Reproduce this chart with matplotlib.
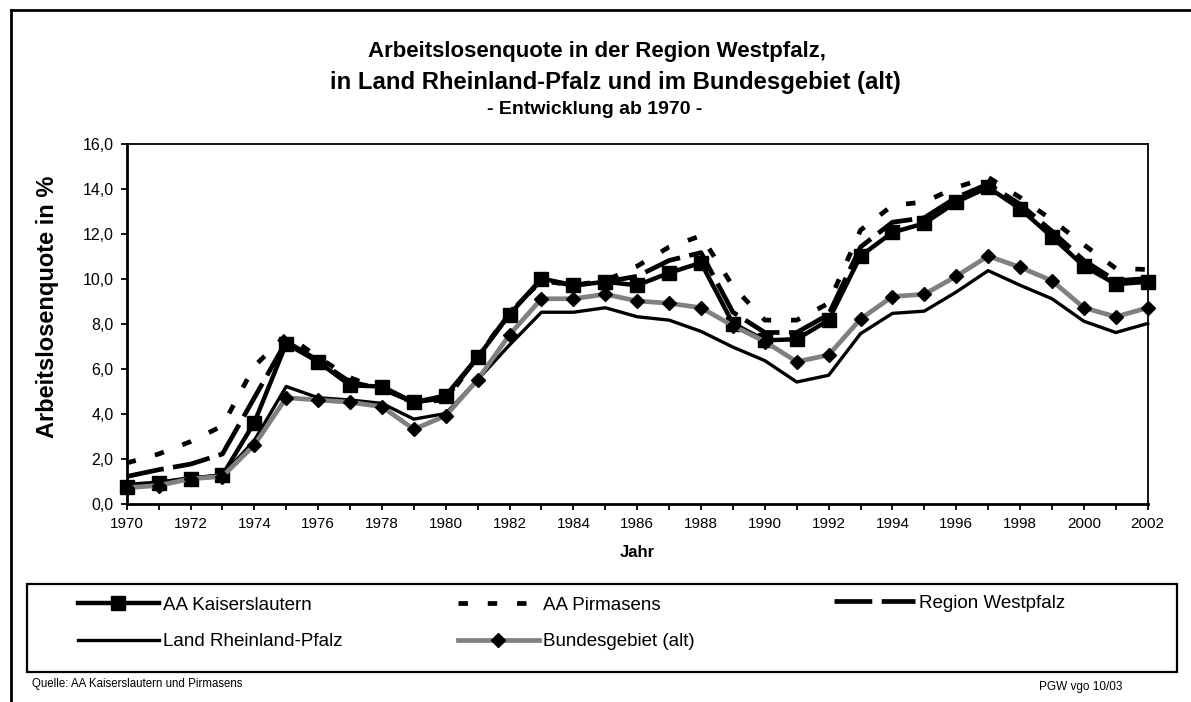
import matplotlib
matplotlib.use("Agg")
import matplotlib.pyplot as plt
from matplotlib.lines import Line2D
from matplotlib.patches import Rectangle

plt.rcParams["font.family"] = ["Liberation Sans", "DejaVu Sans"]

W, H = 1191, 702

years = list(range(1970, 2003))

kaiserslautern = [0.75, 0.9, 1.1, 1.25, 3.6, 7.1, 6.3, 5.25, 5.2, 4.5, 4.8,
                  6.5, 8.4, 10.0, 9.7, 9.85, 9.7, 10.25, 10.7, 8.0, 7.25,
                  7.3, 8.15, 11.0, 12.05, 12.45, 13.4, 14.05, 13.1, 11.85,
                  10.55, 9.75, 9.85]
pirmasens = [1.8, 2.2, 2.75, 3.45, 6.1, 7.5, 6.5, 5.6, 5.0, 4.5, 4.6,
             6.5, 8.5, 9.9, 9.7, 9.9, 10.55, 11.4, 11.9, 9.65, 8.15,
             8.15, 8.9, 12.15, 13.25, 13.4, 14.05, 14.5, 13.6, 12.6,
             11.5, 10.45, 10.4]
westpfalz = [1.2, 1.5, 1.75, 2.2, 4.7, 7.2, 6.35, 5.4, 5.1, 4.5, 4.7,
             6.5, 8.45, 9.95, 9.7, 9.85, 10.1, 10.8, 11.15, 8.5, 7.6,
             7.6, 8.4, 11.4, 12.5, 12.7, 13.6, 14.2, 13.3, 12.1,
             10.8, 9.9, 10.0]
rheinland_pfalz = [0.85, 0.95, 1.15, 1.25, 2.8, 5.2, 4.7, 4.6, 4.45, 3.75, 4.0,
                   5.5, 7.05, 8.5, 8.5, 8.7, 8.3, 8.15, 7.65, 6.95, 6.35,
                   5.4, 5.7, 7.55, 8.45, 8.55, 9.4, 10.35, 9.7, 9.1,
                   8.1, 7.6, 8.0]
bundesgebiet = [0.7, 0.8, 1.1, 1.2, 2.6, 4.7, 4.6, 4.5, 4.3, 3.3, 3.9,
                5.5, 7.5, 9.1, 9.1, 9.3, 9.0, 8.9, 8.7, 7.9, 7.2,
                6.3, 6.6, 8.2, 9.2, 9.3, 10.1, 11.0, 10.5, 9.9,
                8.7, 8.3, 8.7]

labels = ["AA Kaiserslautern", "AA Pirmasens", "Region Westpfalz",
          "Land Rheinland-Pfalz", "Bundesgebiet (alt)"]
y_ticks = [0, 2, 4, 6, 8, 10, 12, 14, 16]


def fx(px):
    return px / W


def fy(py):
    return 1 - py / H


fig = plt.figure(figsize=(W / 100, H / 100), dpi=100)

# outer frame (only top and left edges are inside the picture)
fig.add_artist(Line2D([fx(11), fx(11)], [fy(10), fy(702)], color="black",
                      lw=2, transform=fig.transFigure))
fig.add_artist(Line2D([fx(11), fx(1191)], [fy(10), fy(10)], color="black",
                      lw=2, transform=fig.transFigure))

ax = fig.add_axes([fx(126.7), fy(503.5), fx(1147.7 - 126.7), (503.5 - 143.5) / H])

h_ps, = ax.plot(years, pirmasens, color="black", lw=3.4,
                dashes=(2.0, 4.2), clip_on=False, zorder=2)
h_wp, = ax.plot(years, westpfalz, color="black", lw=3.4,
                dashes=(8, 2), clip_on=False, zorder=3)
h_kl, = ax.plot(years, kaiserslautern, color="black", lw=3.2, marker="s",
                ms=10, clip_on=False, zorder=4)
h_rlp, = ax.plot(years, rheinland_pfalz, color="black", lw=2.4,
                 clip_on=False, zorder=5)
h_bg, = ax.plot(years, bundesgebiet, color="#808080", lw=3.4, marker="D",
                ms=7, mfc="black", mec="black", clip_on=False, zorder=6)

ax.set_xlim(1970, 2002)
ax.set_ylim(0, 16)
ax.set_xticks(years)
ax.set_xticklabels([str(y) if y % 2 == 0 else "" for y in years], fontsize=11)
ax.set_yticks(y_ticks)
ax.set_yticklabels([f"{v:.1f}".replace(".", ",") for v in y_ticks], fontsize=11.5)
ax.tick_params(direction="out", length=4.5, width=1.3, pad=5)

for side in ["left", "bottom"]:
    ax.spines[side].set_linewidth(2)
for side in ["top", "right"]:
    ax.spines[side].set_linewidth(1.3)

ax.set_xlabel("Jahr", fontsize=12, fontweight="bold", labelpad=10)
ax.set_ylabel("Arbeitslosenquote in %", fontsize=17, fontweight="bold")
ax.yaxis.set_label_coords(-0.066, 0.546)

fig.text(fx(597), fy(52), "Arbeitslosenquote in der Region Westpfalz,",
         ha="center", va="center", fontsize=16, fontweight="bold")
fig.text(fx(615), fy(82), "in Land Rheinland-Pfalz und im Bundesgebiet (alt)",
         ha="center", va="center", fontsize=17.2, fontweight="bold")
fig.text(fx(595), fy(109), "- Entwicklung ab 1970 -",
         ha="center", va="center", fontsize=14, fontweight="bold")

# legend box
fig.add_artist(Rectangle((fx(26.7), fy(671.7)), fx(1176.7 - 26.7), (671.7 - 584) / H,
                         fill=False, edgecolor="black", lw=1.6,
                         transform=fig.transFigure))

leg_kw = dict(frameon=False, fontsize=13.5, handlelength=4.3, handletextpad=0.25,
              borderpad=0, borderaxespad=0, labelspacing=1.05, numpoints=1,
              loc="center left")
columns = [
    (78, [h_kl, h_rlp], [labels[0], labels[3]]),
    (458, [h_ps, h_bg], [labels[1], labels[4]]),
]
for x0, hs, ls in columns:
    fig.legend(hs, ls, bbox_to_anchor=(fx(x0), fy(623.5)), **leg_kw)
fig.legend([h_wp], [labels[2]], bbox_to_anchor=(fx(834), fy(603)), **leg_kw)

fig.text(fx(32), fy(684), "Quelle: AA Kaiserslautern und Pirmasens",
         ha="left", va="center", fontsize=8.3)
fig.text(fx(1039), fy(687), "PGW vgo 10/03", ha="left", va="center", fontsize=8.5)

fig.savefig("out.png", dpi=100)
